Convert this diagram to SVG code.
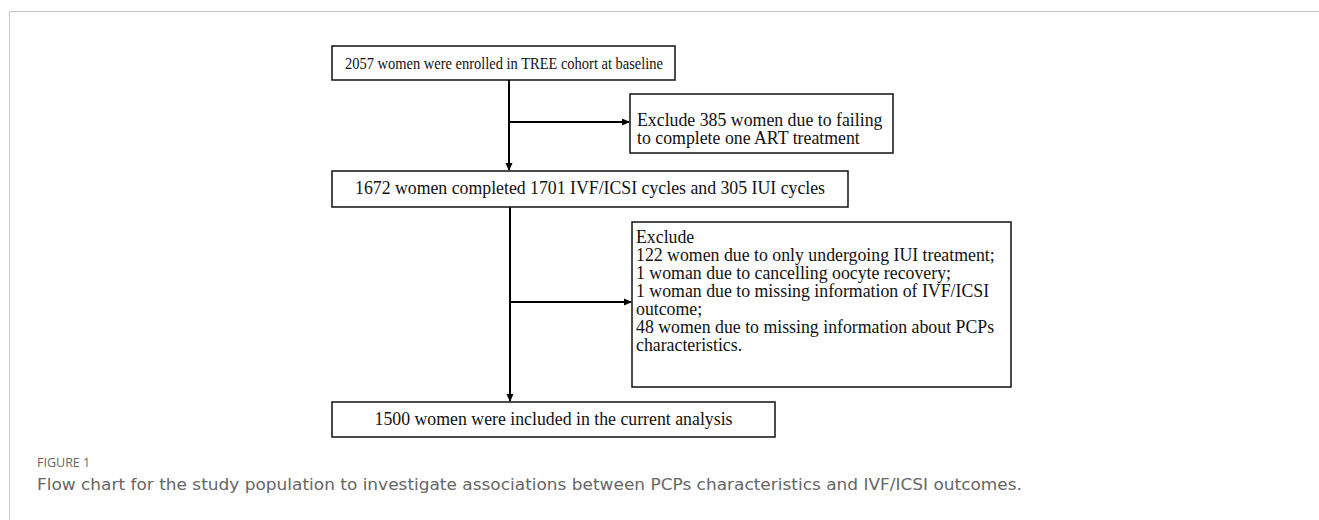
<svg xmlns="http://www.w3.org/2000/svg" width="1319" height="520" viewBox="0 0 1319 520">
<style>
.box{fill:#fff;stroke:#111;stroke-width:1.5}
.t{font-family:"Liberation Serif","Times New Roman",serif;font-size:17.8px;fill:#111}
.ln{stroke:#000;stroke-width:2;fill:none}
.cap{fill:#666}
</style>
<defs>
<marker id="ah" markerWidth="8" markerHeight="8" refX="7" refY="4" orient="auto" markerUnits="userSpaceOnUse">
<path d="M0,0.5 L8,4 L0,7.5 Z" fill="#000"/>
</marker>
</defs>
<rect width="1319" height="520" fill="#fff"/>
<path d="M9.5,520 V11.5 H1319" fill="none" stroke="#c4c4c4" stroke-width="1"/>
<g id="connectors">
<line class="ln" x1="509" y1="80" x2="509" y2="170" marker-end="url(#ah)"/>
<line class="ln" x1="509" y1="122" x2="629" y2="122" marker-end="url(#ah)"/>
<line class="ln" x1="510" y1="207" x2="510" y2="401" marker-end="url(#ah)"/>
<line class="ln" x1="510" y1="302" x2="631" y2="302" marker-end="url(#ah)"/>
</g>
<g id="n1">
<rect class="box" x="332" y="46" width="343" height="34"/>
<text class="t" x="345" y="69" style="font-size:16.5px" textLength="318" lengthAdjust="spacingAndGlyphs">2057 women were enrolled in TREE cohort at baseline</text>
</g>
<g id="n2">
<rect class="box" x="630" y="94" width="263" height="59"/>
<text class="t" x="637" y="126">Exclude 385 women due to failing</text>
<text class="t" x="637" y="144">to complete one ART treatment</text>
</g>
<g id="n3">
<rect class="box" x="332" y="171" width="516" height="36"/>
<text class="t" x="355" y="194" textLength="470" lengthAdjust="spacingAndGlyphs">1672 women completed 1701 IVF/ICSI cycles and 305 IUI cycles</text>
</g>
<g id="n4">
<rect class="box" x="632" y="222" width="379" height="165"/>
<text class="t" x="636" y="243">Exclude</text>
<text class="t" x="636" y="261">122 women due to only undergoing IUI treatment;</text>
<text class="t" x="636" y="279">1 woman due to cancelling oocyte recovery;</text>
<text class="t" x="636" y="297">1 woman due to missing information of IVF/ICSI</text>
<text class="t" x="636" y="315">outcome;</text>
<text class="t" x="636" y="333">48 women due to missing information about PCPs</text>
<text class="t" x="636" y="351">characteristics.</text>
</g>
<g id="n5">
<rect class="box" x="332" y="402" width="443" height="35"/>
<text class="t" x="553.5" y="425" text-anchor="middle">1500 women were included in the current analysis</text>
</g>
<g id="caption">
<text class="cap" x="37" y="467" font-family="'Open Sans','Liberation Sans',sans-serif" font-size="12.5px">FIGURE 1</text>
<text class="cap" x="37" y="490" font-family="'DejaVu Sans','Liberation Sans',sans-serif" font-size="15.5px" textLength="985" lengthAdjust="spacingAndGlyphs">Flow chart for the study population to investigate associations between PCPs characteristics and IVF/ICSI outcomes.</text>
</g>
</svg>
